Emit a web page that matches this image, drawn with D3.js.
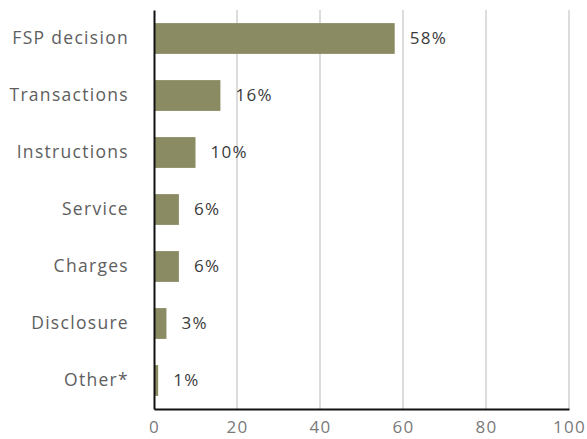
<!DOCTYPE html>
<html>
<head>
<meta charset="utf-8">
<script src="https://cdn.jsdelivr.net/npm/d3@7"></script>
<style>
  html, body { margin: 0; padding: 0; background: #fff; }
  svg text { font-family: "Open Sans", "Lato", sans-serif; letter-spacing: 1.3px; font-weight: 400; }
</style>
</head>
<body>
<svg id="chart" width="587" height="439"></svg>
<script>
// Complaint categories and their share (%)
const categories = ["FSP decision", "Transactions", "Instructions", "Service", "Charges", "Disclosure", "Other*"];
const shares = [58, 16, 10, 6, 6, 3, 1];
const xTicks = [0, 20, 40, 60, 80, 100];

const svg = d3.select("#chart");
const margin = { top: 10, right: 18, bottom: 30, left: 154 };
const width = 587, height = 439;

const x = d3.scaleLinear().domain([0, 100]).range([margin.left, width - margin.right]);
const y = d3.scaleBand().domain(categories).range([margin.top, height - margin.bottom]).paddingInner(0.46).paddingOuter(0.23);

// vertical gridlines
svg.append("g").selectAll("line").data(xTicks.slice(1)).join("line")
  .attr("x1", d => x(d)).attr("x2", d => x(d))
  .attr("y1", margin.top).attr("y2", height - margin.bottom)
  .attr("stroke", "#dcdcdc").attr("stroke-width", 2);

// bars
const data = categories.map((c, i) => ({ c, v: shares[i] }));
svg.append("g").selectAll("rect").data(data).join("rect")
  .attr("x", x(0)).attr("y", d => y(d.c))
  .attr("width", d => x(d.v) - x(0)).attr("height", y.bandwidth())
  .attr("fill", "#8a8b62");

// value labels
svg.append("g").selectAll("text").data(data).join("text")
  .attr("x", d => x(d.v) + 15).attr("y", d => y(d.c) + y.bandwidth() / 2)
  .attr("dy", "0.34em").attr("font-size", 17).attr("fill", "#3a3a3a")
  .text(d => d.v + "%");

// category axis
const yAxis = svg.append("g").attr("transform", `translate(${x(0)},0)`)
  .call(d3.axisLeft(y).tickSize(0).tickPadding(25));
yAxis.select(".domain").attr("stroke", "#111").attr("stroke-width", 2);
yAxis.selectAll("text").attr("font-size", 17.5).attr("fill", "#5e5e5e").attr("dy", "0.34em");

// value axis
const xAxis = svg.append("g").attr("transform", `translate(0,${height - margin.bottom})`)
  .call(d3.axisBottom(x).tickValues(xTicks).tickSize(0).tickPadding(12));
xAxis.select(".domain").attr("stroke", "#111").attr("stroke-width", 2);
xAxis.selectAll("text").attr("font-size", 17).attr("fill", "#7a7a7a");
</script>
</body>
</html>
